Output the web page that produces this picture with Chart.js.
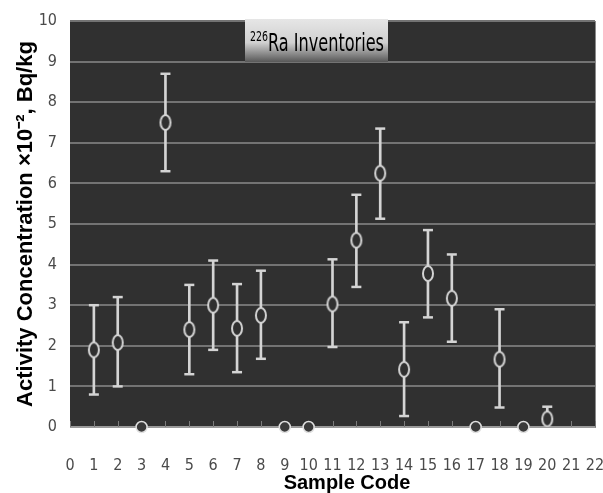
<!DOCTYPE html>
<html>
<head>
<meta charset="utf-8">
<script src="https://cdn.jsdelivr.net/npm/chart.js@4/dist/chart.umd.min.js"></script>
<style>
  html, body { margin: 0; padding: 0; background: #ffffff; }
  #wrap { width: 603px; height: 493px; position: relative; }
</style>
</head>
<body>
<div id="wrap"><canvas id="chart_raInventories"></canvas></div>
<script>
// sample codes and 226Ra activity (x10^-2 Bq/kg) with error bar limits
var sampleCodes = [1, 2, 3, 4, 5, 6, 7, 8, 9, 10, 11, 12, 13, 14, 15, 16, 17, 18, 19, 20];
var activity    = [1.9, 2.08, 0, 7.5, 2.4, 3.0, 2.43, 2.75, 0, 0, 3.03, 4.6, 6.25, 1.42, 3.78, 3.17, 0, 1.67, 0, 0.2];
var errLow      = [0.8, 1.0, null, 6.3, 1.3, 1.9, 1.35, 1.68, null, null, 1.97, 3.45, 5.13, 0.27, 2.7, 2.1, null, 0.48, null, 0.2];
var errHigh     = [3.0, 3.2, null, 8.7, 3.5, 4.1, 3.52, 3.85, null, null, 4.13, 5.72, 7.35, 2.58, 4.85, 4.25, null, 2.9, null, 0.5];
var xTicks = [0, 1, 2, 3, 4, 5, 6, 7, 8, 9, 10, 11, 12, 13, 14, 15, 16, 17, 18, 19, 20, 21, 22];
var yTicks = [0, 1, 2, 3, 4, 5, 6, 7, 8, 9, 10];
var chartTitle = 'Ra Inventories';
var isotope = '226';
var xTitle = 'Sample Code';

var plotBg = '#303030';
var markColor = '#d4d4d4';
var tickFont = "'Liberation Sans Narrow', 'DejaVu Sans Condensed', 'Liberation Sans', sans-serif";
var boldFont = "'Liberation Sans', Arial, sans-serif";

// open ellipse marker
function ellipseMarker() {
    var c = document.createElement('canvas');
    c.width = 14; c.height = 19;
    var g = c.getContext('2d');
    g.beginPath();
    g.ellipse(7, 9.5, 5, 7.5, 0, 0, Math.PI * 2);
    g.fillStyle = plotBg;
    g.fill();
    g.lineWidth = 2;
    g.strokeStyle = markColor;
    g.stroke();
    return c;
}

var measured = [], zeros = [], stems = [], caps = [];
sampleCodes.forEach(function (code, i) {
    if (activity[i] === 0) {
        zeros.push({x: code, y: 0});
    } else {
        measured.push({x: code, y: activity[i]});
        stems.push({x: code, y: [errLow[i], errHigh[i]]});
        caps.push({x: code, y: errLow[i]});
        caps.push({x: code, y: errHigh[i]});
    }
});

var chart_raInventories = new Chart(document.getElementById('chart_raInventories'), {
    type: 'scatter',
    data: {
        datasets: [
            {
                label: 'measured',
                data: measured,
                pointStyle: ellipseMarker(),
                order: 0
            },
            {
                label: 'below detection',
                data: zeros,
                pointStyle: 'circle',
                pointRadius: 5.5,
                backgroundColor: '#3a3a3a',
                borderColor: '#e0e0e0',
                borderWidth: 1.5,
                clip: false,
                order: 0
            },
            {
                label: 'caps',
                data: caps,
                pointStyle: 'line',
                pointRadius: 5,
                borderColor: markColor,
                borderWidth: 2.5,
                order: 1
            },
            {
                type: 'bar',
                label: 'error',
                data: stems,
                backgroundColor: markColor,
                barThickness: 2,
                order: 2
            }
        ]
    },
    options: {
        animation: false,
        responsive: true,
        maintainAspectRatio: false,
        events: [],
        layout: { padding: { top: 21, right: 8, left: 0, bottom: 0 } },
        plugins: {
            legend: { display: false },
            tooltip: { enabled: false },
            title: { display: false }
        },
        scales: {
            x: {
                type: 'linear',
                offset: false,
                min: 0,
                max: 22,
                afterBuildTicks: function (scale) {
                    scale.ticks = xTicks.map(function (v) { return {value: v}; });
                },
                afterFit: function (scale) {
                    scale.height = 66;
                    scale.paddingLeft = 0;
                    scale.paddingRight = 0;
                },
                grid: { display: false, drawTicks: false, offset: false },
                border: { display: false },
                ticks: {
                    padding: 29,
                    color: '#4a4a4a',
                    font: { family: tickFont, size: 16 },
                    maxRotation: 0,
                    autoSkip: false
                }
            },
            y: {
                type: 'linear',
                min: 0,
                max: 10,
                afterBuildTicks: function (scale) {
                    scale.ticks = yTicks.map(function (v) { return {value: v}; });
                },
                afterFit: function (scale) {
                    scale.width = 70;
                    scale.paddingTop = 0;
                    scale.paddingBottom = 0;
                },
                grid: {
                    color: function (ctx) { return ctx.tick && ctx.tick.value === 0 ? '#9a9a9a' : '#737373'; },
                    lineWidth: 2,
                    drawTicks: false
                },
                border: { display: false },
                ticks: {
                    padding: 13,
                    color: '#4a4a4a',
                    font: { family: tickFont, size: 16 }
                },
                title: {
                    display: true,
                    text: 'Activity Concentration \u00d710\u207b\u00b2, Bq/kg',
                    color: '#000000',
                    font: { family: boldFont, size: 22, weight: 'bold' },
                    padding: { top: 13, bottom: 0 }
                }
            }
        }
    },
    plugins: [{
        id: 'plotFrame',
        beforeDraw: function (chart) {
            var ctx = chart.ctx, a = chart.chartArea, xs = chart.scales.x;
            ctx.save();
            ctx.fillStyle = '#ffffff';
            ctx.fillRect(0, 0, chart.width, chart.height);
            ctx.fillStyle = plotBg;
            ctx.fillRect(xs.left, a.top, xs.right - xs.left, a.bottom - a.top);
            ctx.restore();
        },
        beforeDatasetsDraw: function (chart) {
            var ctx = chart.ctx, a = chart.chartArea, xs = chart.scales.x;
            ctx.save();
            ctx.strokeStyle = '#8a8a8a';
            ctx.lineWidth = 1;
            ctx.beginPath();
            ctx.moveTo(xs.right + 0.5, a.top);
            ctx.lineTo(xs.right + 0.5, a.bottom + 1);
            ctx.stroke();
            // small inside tick marks along the zero line
            ctx.strokeStyle = '#7a7a7a';
            xTicks.forEach(function (v) {
                var px = Math.round(xs.getPixelForValue(v)) + 0.5;
                ctx.beginPath();
                ctx.moveTo(px, a.bottom);
                ctx.lineTo(px, a.bottom - 6);
                ctx.stroke();
            });
            ctx.restore();
        },
        afterDraw: function (chart) {
            var ctx = chart.ctx;
            ctx.save();
            // x axis title, sits a little right of centre in the original
            ctx.fillStyle = '#000000';
            ctx.textAlign = 'center';
            ctx.textBaseline = 'alphabetic';
            ctx.font = "bold 20px " + boldFont;
            ctx.fillText(xTitle, 347, 489);

            // title box
            var bx = 245, by = 19, bw = 143, bh = 43;
            var grad = ctx.createLinearGradient(0, by, 0, by + bh);
            grad.addColorStop(0, '#e6e6e6');
            grad.addColorStop(0.55, '#d0d0d0');
            grad.addColorStop(1, '#585858');
            ctx.fillStyle = grad;
            ctx.fillRect(bx, by, bw, bh);

            ctx.textAlign = 'left';
            ctx.fillStyle = '#000000';
            ctx.font = "14px " + tickFont;
            var supW = ctx.measureText(isotope).width;
            ctx.font = "24px " + tickFont;
            var mainW = ctx.measureText(chartTitle).width;
            var fitW = 134;
            var k = fitW / (supW + mainW);
            ctx.translate(bx + 5, 0);
            ctx.scale(k, 1);
            ctx.font = "14px " + tickFont;
            ctx.fillText(isotope, 0, 41);
            ctx.font = "24px " + tickFont;
            ctx.fillText(chartTitle, supW, 51);
            ctx.restore();
        }
    }]
});
</script>
</body>
</html>
